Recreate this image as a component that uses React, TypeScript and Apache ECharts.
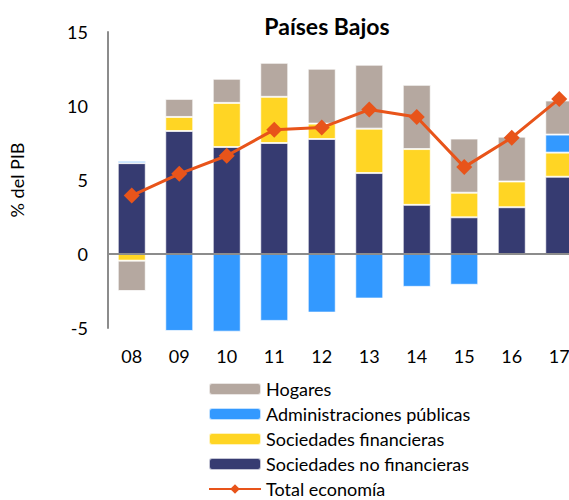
import React, { useEffect, useRef } from "react";
import * as echarts from "echarts";

// Ahorro / necesidad de financiación por sector, % del PIB
const years = ["08", "09", "10", "11", "12", "13", "14", "15", "16", "17"];
const sociedadesNoFinancieras = [6.14, 8.31, 7.23, 7.5, 7.77, 5.47, 3.32, 2.48, 3.16, 5.22];
const sociedadesFinancieras = [-0.45, 0.95, 2.98, 3.12, 1.04, 3.0, 3.77, 1.66, 1.74, 1.63];
const administracionesPublicas = [0.15, -5.2, -5.25, -4.52, -3.96, -3.01, -2.22, -2.08, 0, 1.22];
const hogares = [-2.05, 1.22, 1.63, 2.3, 3.71, 4.32, 4.34, 3.66, 3.03, 2.3];
const totalEconomia = [3.95, 5.42, 6.64, 8.4, 8.54, 9.76, 9.26, 5.87, 7.86, 10.48];
const yTicks = { min: -5, max: 15, interval: 5 };

const FONT = "Lato";
const barBorder = { borderColor: "rgba(255,255,255,0.7)", borderWidth: 1 };

export default function App() {
  const ref = useRef<HTMLDivElement>(null);

  useEffect(() => {
    if (!ref.current) return;
    const chart = echarts.init(ref.current, undefined, { renderer: "svg" });
    chart.setOption({
      animation: false,
      textStyle: { fontFamily: FONT, color: "#000" },
      title: {
        text: "Países Bajos",
        left: 322,
        top: 9,
        textAlign: "center",
        textStyle: { fontFamily: FONT, fontSize: 23, fontWeight: "bold", color: "#000" },
      },
      grid: { left: 106, top: 32, width: 477, height: 296 },
      legend: {
        orient: "vertical",
        left: 203,
        top: 375,
        itemWidth: 52,
        itemHeight: 12,
        itemGap: 7,
        textStyle: { fontFamily: FONT, fontSize: 18, color: "#000" },
        data: [
          "Hogares",
          "Administraciones públicas",
          "Sociedades financieras",
          "Sociedades no financieras",
          "Total economía",
        ],
      },
      xAxis: {
        type: "category",
        data: years,
        axisLine: { onZero: false, show: false },
        axisTick: { show: false },
        axisLabel: { fontFamily: FONT, fontSize: 18, color: "#000", margin: 19 },
      },
      yAxis: {
        type: "value",
        min: yTicks.min,
        max: yTicks.max,
        interval: yTicks.interval,
        name: "% del PIB",
        nameLocation: "middle",
        nameGap: 82,
        nameRotate: 90,
        nameTextStyle: { fontFamily: FONT, fontSize: 18, color: "#000" },
        axisLine: { show: true, lineStyle: { color: "#8c8c8c", width: 2 } },
        axisTick: { show: false },
        splitLine: { show: false },
        axisLabel: { fontFamily: FONT, fontSize: 18, color: "#000", margin: 20 },
      },
      series: [
        {
          name: "Sociedades no financieras",
          type: "bar",
          stack: "sectores",
          barWidth: 28,
          clip: false,
          data: sociedadesNoFinancieras,
          itemStyle: { color: "#363B71", ...barBorder },
          markLine: {
            silent: true,
            symbol: "none",
            label: { show: false },
            lineStyle: { color: "#8c8c8c", width: 2, type: "solid" },
            data: [{ yAxis: 0 }],
          },
        },
        {
          name: "Sociedades financieras",
          type: "bar",
          stack: "sectores",
          clip: false,
          data: sociedadesFinancieras,
          itemStyle: { color: "#FFD524", ...barBorder },
        },
        {
          name: "Administraciones públicas",
          type: "bar",
          stack: "sectores",
          clip: false,
          data: administracionesPublicas,
          itemStyle: { color: "#3399FF", ...barBorder },
        },
        {
          name: "Hogares",
          type: "bar",
          stack: "sectores",
          clip: false,
          data: hogares,
          itemStyle: { color: "#B5A8A0", ...barBorder },
        },
        {
          name: "Total economía",
          type: "line",
          data: totalEconomia,
          symbol: "diamond",
          symbolSize: 16,
          z: 5,
          lineStyle: { color: "#E8541A", width: 3 },
          itemStyle: { color: "#E8541A" },
        },
      ],
    });
    return () => chart.dispose();
  }, []);

  // The plot runs past the right edge; the fixed frame crops it.
  return (
    <div
      style={{
        position: "fixed",
        left: 0,
        top: 0,
        width: 569,
        height: 500,
        overflow: "hidden",
        background: "#fff",
      }}
    >
      <div ref={ref} style={{ width: 600, height: 540 }} />
    </div>
  );
}
